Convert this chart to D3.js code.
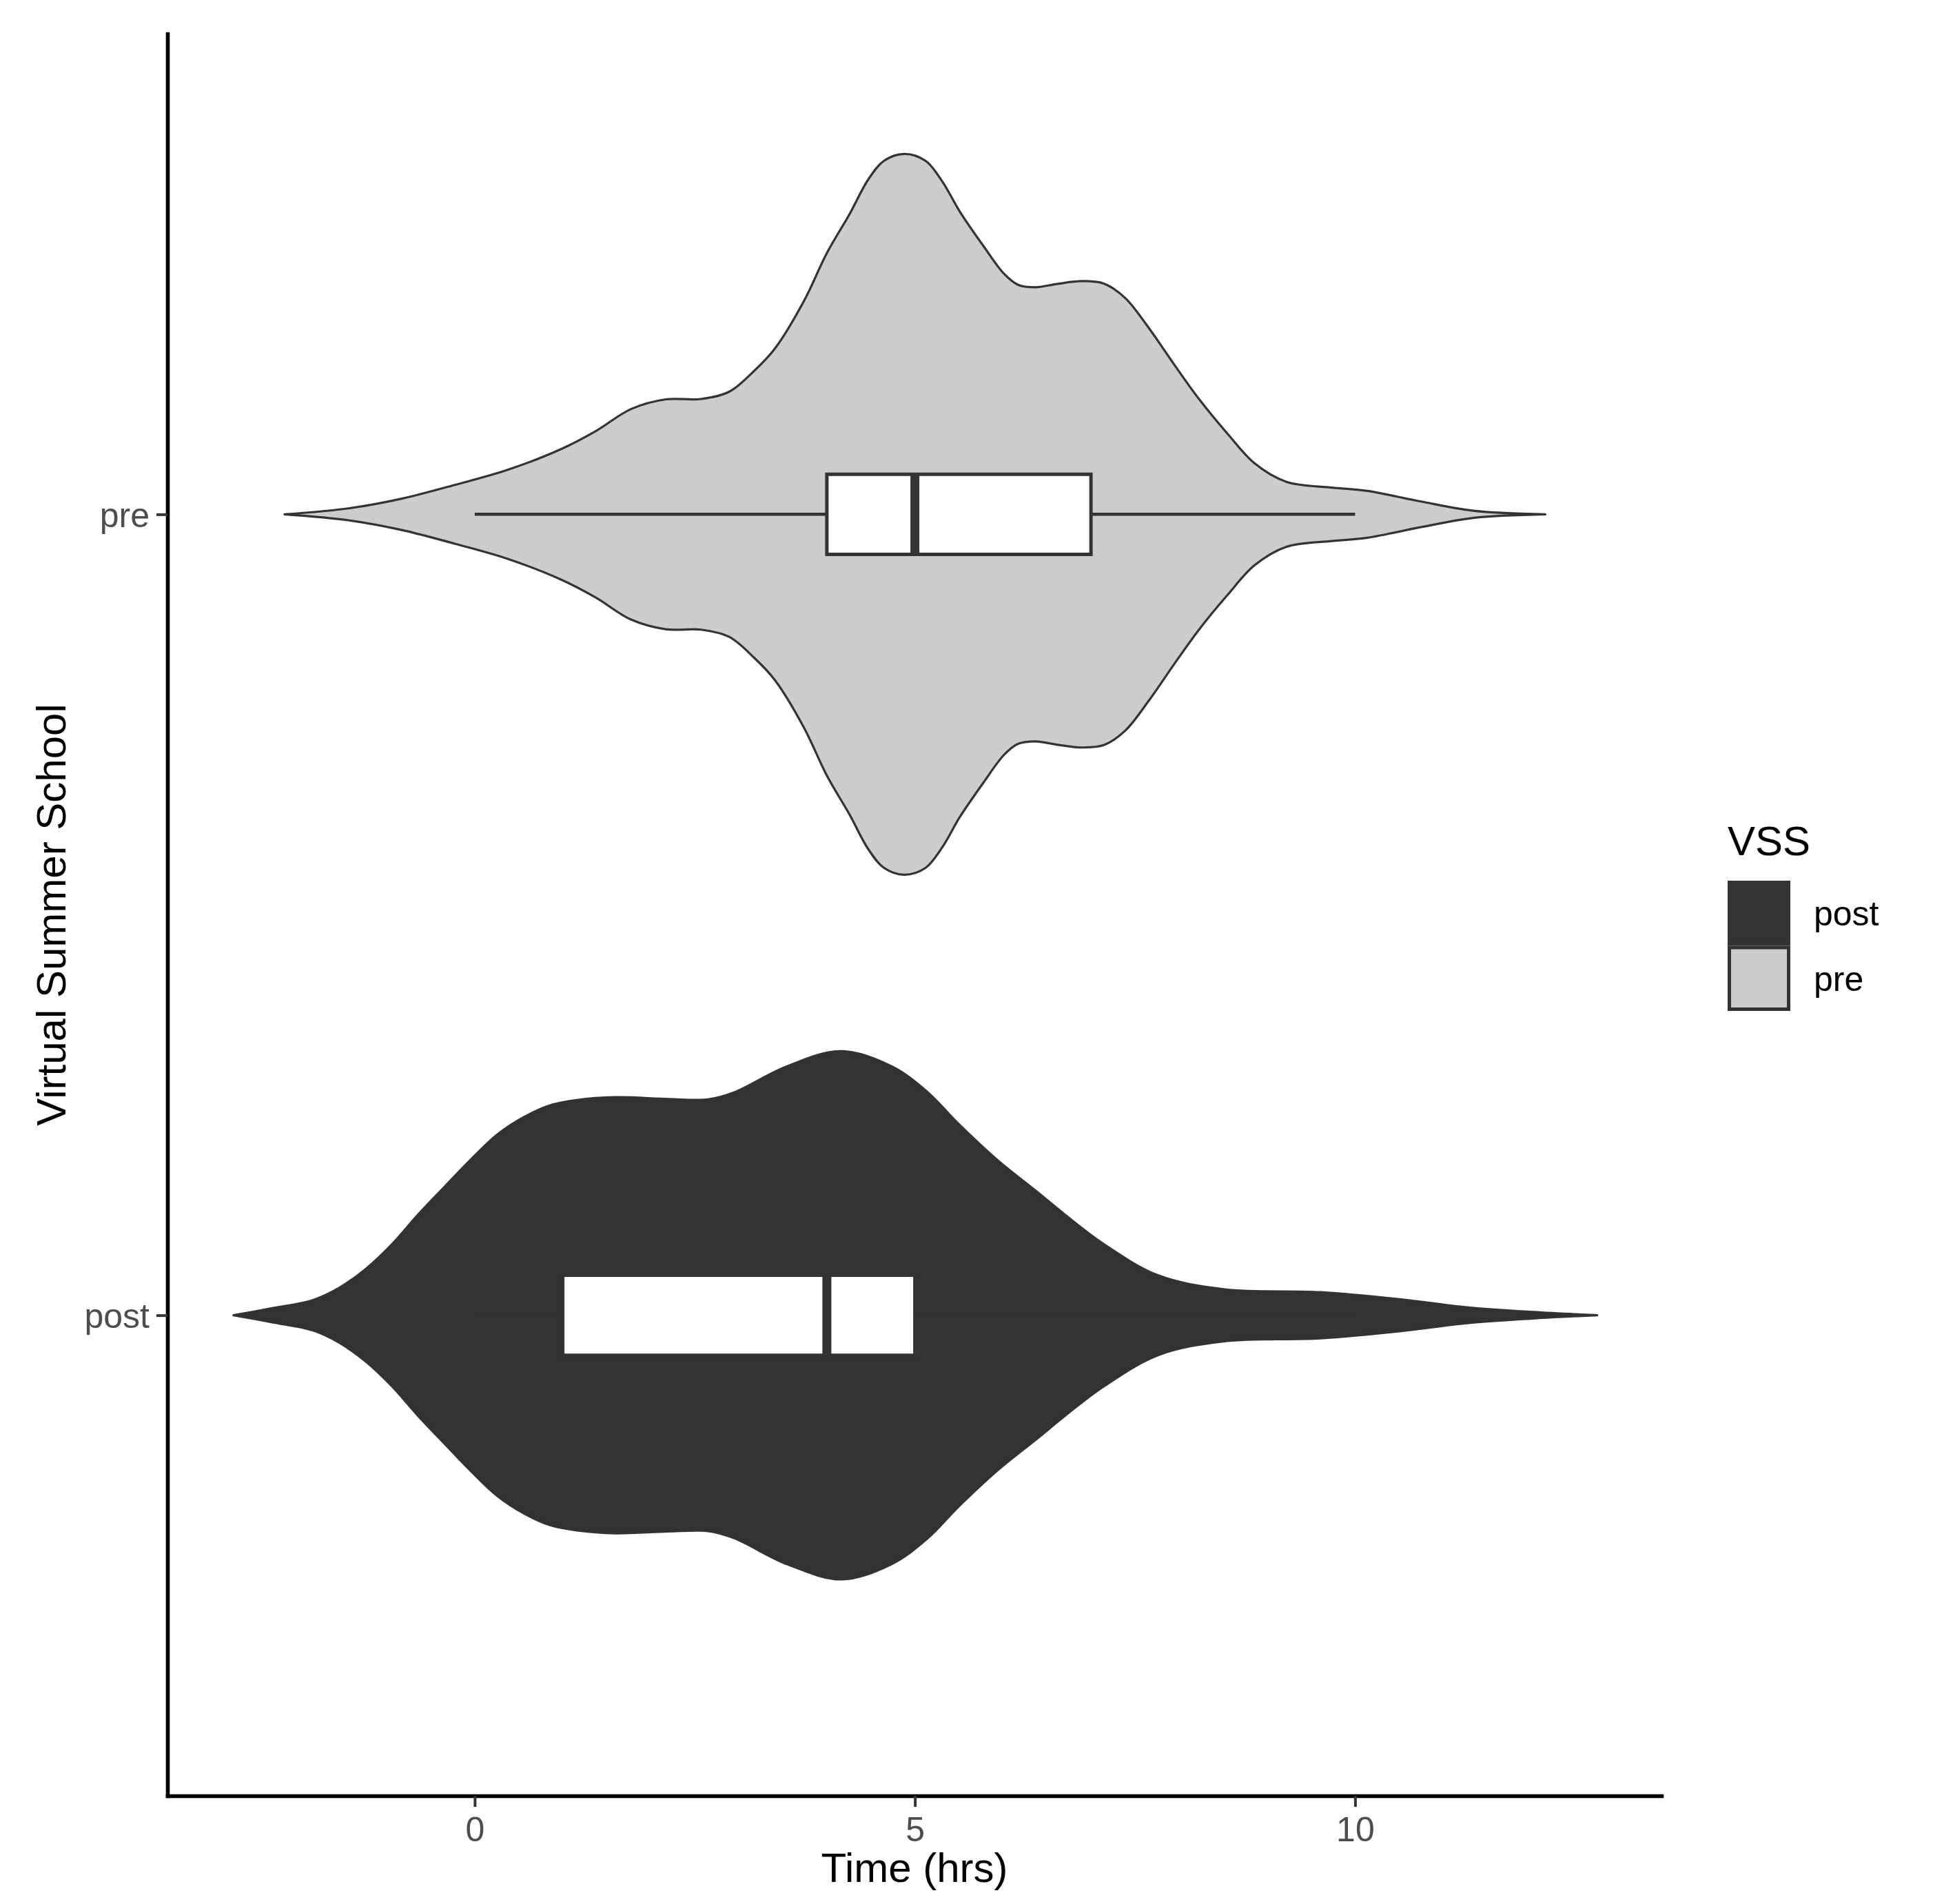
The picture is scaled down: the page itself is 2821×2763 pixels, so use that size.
<!DOCTYPE html>
<html>
<head>
<meta charset="utf-8">
<script src="https://cdn.jsdelivr.net/npm/d3@7"></script>
<style>
  html, body { margin: 0; padding: 0; background: #ffffff; }
  svg { display: block; }
</style>
</head>
<body>
<script>
// ---------------- data ----------------
const categories = ["pre", "post"];
const legendLabels = ["post", "pre"];
const fillColors = ["#333333", "#cccccc"]; // post, pre
const xTicks = [0, 5, 10];

// violin outlines: [time (hrs), relative density]
const preDensity = [
  [-2.16, 0], [-1.42, 0.017], [-0.82, 0.044], [-0.22, 0.082], [0.38, 0.124],
  [0.98, 0.181], [1.375, 0.231], [1.775, 0.292], [2.17, 0.319], [2.57, 0.32],
  [2.89, 0.34], [3.17, 0.397], [3.41, 0.46], [3.74, 0.592], [4.0, 0.725],
  [4.26, 0.834], [4.47, 0.929], [4.65, 0.981], [4.88, 1.0], [5.12, 0.981],
  [5.31, 0.924], [5.51, 0.840], [5.78, 0.744], [6.01, 0.668], [6.17, 0.637],
  [6.37, 0.630], [6.61, 0.639], [6.90, 0.647], [7.15, 0.640], [7.39, 0.600],
  [7.66, 0.516], [7.95, 0.414], [8.23, 0.319], [8.55, 0.224], [8.86, 0.141],
  [9.22, 0.090], [9.74, 0.074], [10.14, 0.065], [10.74, 0.036], [11.34, 0.010],
  [12.16, 0]
];
const postDensity = [
  [-2.74, 0], [-2.29, 0.02], [-1.84, 0.042], [-1.54, 0.076], [-1.24, 0.128],
  [-0.94, 0.197], [-0.64, 0.28], [-0.34, 0.357], [-0.04, 0.433], [0.26, 0.502],
  [0.56, 0.55], [0.85, 0.582], [1.16, 0.597], [1.6, 0.605], [2.2, 0.60],
  [2.65, 0.599], [2.94, 0.618], [3.55, 0.691], [4.17, 0.733], [4.74, 0.69],
  [5.14, 0.62], [5.5, 0.53], [5.94, 0.43], [6.4, 0.34], [6.71, 0.278],
  [7.13, 0.20], [7.76, 0.111], [8.52, 0.072], [9.61, 0.064], [10.52, 0.044],
  [11.27, 0.022], [12.02, 0.009], [12.75, 0]
];

// box plot statistics, in the order of `categories`
const whiskerLow = [0, 0];
const boxQ1 = [4, 1];
const boxMedian = [5, 4];
const boxQ3 = [7, 5];
const whiskerHigh = [10, 10];

// ---------------- layout ----------------
const W = 2821, H = 2763;
const panel = { left: 243, right: 2411, top: 49, bottom: 2606 };
const ink = "#333333";
const font = "'Liberation Sans', Arial, Helvetica, sans-serif";

const svg = d3.select("body").append("svg")
  .attr("width", W).attr("height", H)
  .attr("viewBox", `0 0 ${W} ${H}`);
svg.append("rect").attr("width", W).attr("height", H).attr("fill", "#fff");

const x = d3.scaleLinear().domain([-3.49, 13.48]).range([panel.left, panel.right]);
const y = d3.scalePoint().domain(categories).range([panel.top, panel.bottom]).padding(0.6);
const step = y.step();
const w = d3.scaleLinear().domain([0, 1]).range([0, 0.45 * step]);

const fillOf = c => c === "post" ? fillColors[0] : fillColors[1];

// ---------------- violins ----------------
const densities = { pre: preDensity, post: postDensity };
categories.forEach(c => {
  const cy = y(c);
  const area = d3.area()
    .x(d => x(d[0]))
    .y0(d => cy - w(d[1]))
    .y1(d => cy + w(d[1]))
    .curve(d3.curveCatmullRom.alpha(0.5));
  svg.append("path")
    .datum(densities[c])
    .attr("d", area)
    .attr("fill", fillOf(c))
    .attr("stroke", ink)
    .attr("stroke-width", 3.2)
    .attr("stroke-linejoin", "round");
});

// ---------------- boxes ----------------
const boxHalf = 0.05 * step;
categories.forEach((c, i) => {
  const cy = y(c);
  const g = svg.append("g");
  g.append("line").attr("x1", x(whiskerLow[i])).attr("x2", x(boxQ1[i]))
    .attr("y1", cy).attr("y2", cy).attr("stroke", ink).attr("stroke-width", 4.5);
  g.append("line").attr("x1", x(boxQ3[i])).attr("x2", x(whiskerHigh[i]))
    .attr("y1", cy).attr("y2", cy).attr("stroke", ink).attr("stroke-width", 4.5);
  g.append("rect")
    .attr("x", x(boxQ1[i])).attr("width", x(boxQ3[i]) - x(boxQ1[i]))
    .attr("y", cy - boxHalf).attr("height", 2 * boxHalf)
    .attr("fill", "#ffffff").attr("stroke", ink).attr("stroke-width", 5);
  g.append("line").attr("x1", x(boxMedian[i])).attr("x2", x(boxMedian[i]))
    .attr("y1", cy - boxHalf).attr("y2", cy + boxHalf)
    .attr("stroke", ink).attr("stroke-width", 13);
});

// ---------------- axes ----------------
const xAxis = svg.append("g")
  .attr("transform", `translate(0,${panel.bottom})`)
  .call(d3.axisBottom(x).tickValues(xTicks).tickSize(16).tickSizeOuter(0).tickPadding(14)
    .tickFormat(d3.format("d")));
const yAxis = svg.append("g")
  .attr("transform", `translate(${panel.left},0)`)
  .call(d3.axisLeft(y).tickSize(16).tickSizeOuter(0).tickPadding(10));

[xAxis, yAxis].forEach(a => {
  a.select(".domain").attr("stroke", "#000").attr("stroke-width", 5.6).attr("stroke-linecap", "square");
  a.selectAll(".tick line").attr("stroke", ink).attr("stroke-width", 4);
  a.selectAll(".tick text")
    .attr("fill", "#4d4d4d")
    .style("font-family", font)
    .style("font-size", "50px");
});
xAxis.selectAll(".tick text").attr("dy", "0.71em");
yAxis.selectAll(".tick text").attr("dy", "0.36em");

// axis titles
svg.append("text")
  .attr("x", (panel.left + panel.right) / 2).attr("y", 2731)
  .attr("text-anchor", "middle")
  .style("font-family", font).style("font-size", "60px").attr("fill", "#000")
  .text("Time (hrs)");
svg.append("text")
  .attr("transform", `translate(95,${(panel.top + panel.bottom) / 2}) rotate(-90)`)
  .attr("text-anchor", "middle")
  .style("font-family", font).style("font-size", "60px").attr("fill", "#000")
  .text("Virtual Summer School");

// ---------------- legend ----------------
const leg = svg.append("g").attr("transform", "translate(2507,0)");
leg.append("text").attr("x", 0).attr("y", 1241)
  .style("font-family", font).style("font-size", "60px").attr("fill", "#000")
  .text("VSS");
const keyTop = 1278, keyW = 91, keyH = 94.5;
legendLabels.forEach((lab, i) => {
  const ky = keyTop + i * keyH;
  leg.append("rect")
    .attr("x", 2.5).attr("y", ky + 2.5)
    .attr("width", keyW - 5).attr("height", keyH - 5)
    .attr("fill", fillColors[i]).attr("stroke", ink).attr("stroke-width", 5);
  leg.append("text")
    .attr("x", 125).attr("y", ky + keyH / 2).attr("dy", "0.36em")
    .style("font-family", font).style("font-size", "50px").attr("fill", "#000")
    .text(lab);
});
</script>
</body>
</html>
